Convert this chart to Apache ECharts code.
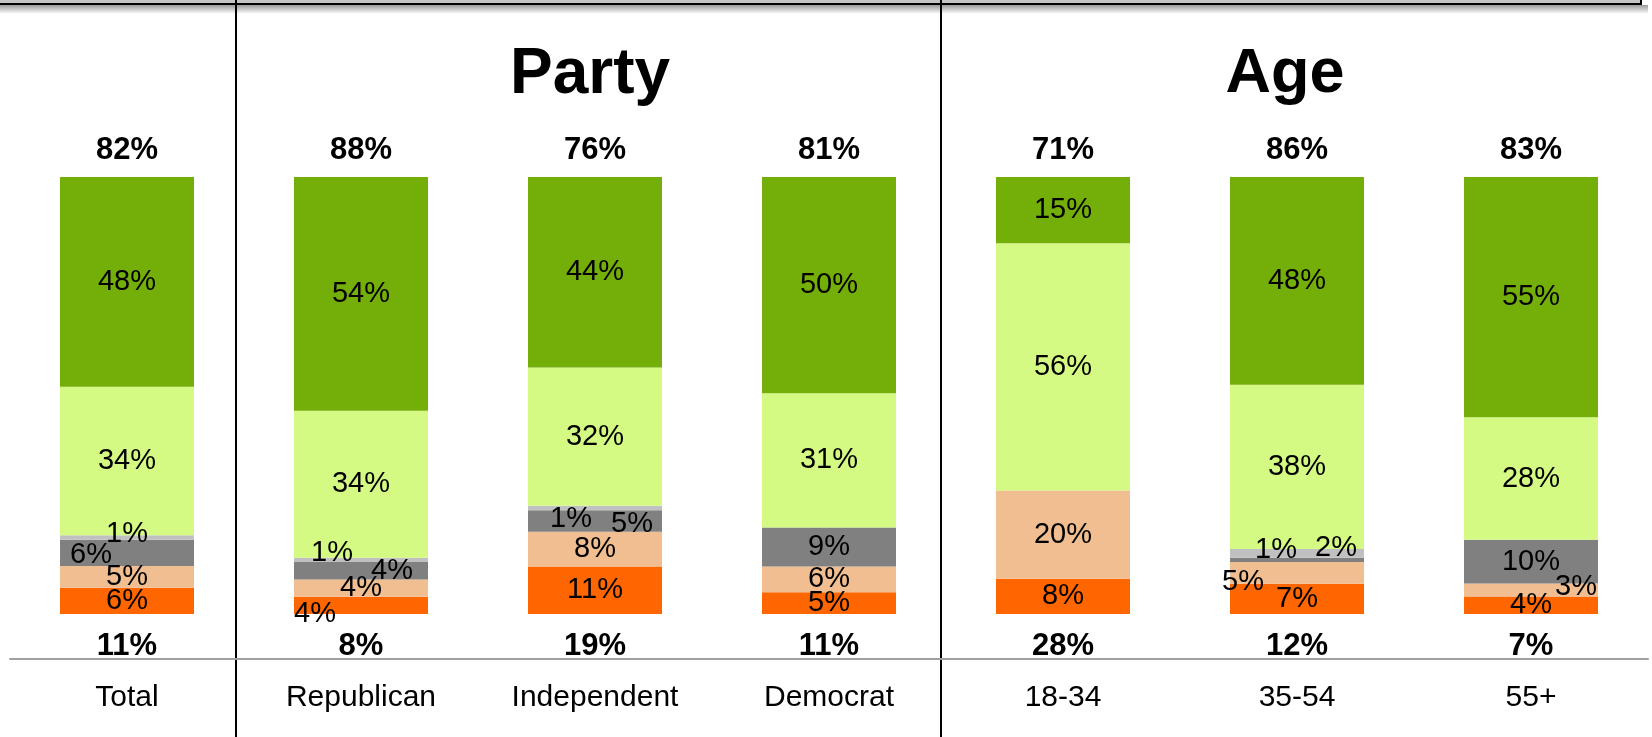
<!DOCTYPE html>
<html>
<head>
<meta charset="utf-8">
<script src="https://cdn.jsdelivr.net/npm/echarts@6/dist/echarts.min.js"></script>
<style>
  html, body { margin: 0; padding: 0; background: #fff; }
  #chart { width: 1652px; height: 737px; }
</style>
</head>
<body>
<div id="chart"></div>
<script>
// categories and values (percent)
const categories = ["Total", "Republican", "Independent", "Democrat", "18-34", "35-54", "55+"];
const topNet = [82, 88, 76, 81, 71, 86, 83];
const bottomNet = [11, 8, 19, 11, 28, 12, 7];

// stacked segments, bottom to top
const strongOppose = [6, 4, 11, 5, 8, 7, 4];
const someOppose = [5, 4, 8, 6, 20, 5, 3];
const darkGray = [6, 4, 5, 9, 0, 1, 10];
const lightGray = [1, 1, 1, 0, 0, 2, 0];
const someSupport = [34, 34, 32, 31, 56, 38, 28];
const strongSupport = [48, 54, 44, 50, 15, 48, 55];

const segments = [
  { name: "Strongly oppose", values: strongOppose, color: "#FF6600" },
  { name: "Somewhat oppose", values: someOppose, color: "#F0BE90" },
  { name: "Don't know", values: darkGray, color: "#808080" },
  { name: "Refused", values: lightGray, color: "#C0C0C0" },
  { name: "Somewhat support", values: someSupport, color: "#D4FA84" },
  { name: "Strongly support", values: strongSupport, color: "#74AE08" },
];

// label nudges for small segments: [seriesIndex, categoryIndex, dx, dy]
const labelNudges = [
  [2, 0, -36, 2], [3, 0, 0, -4],
  [3, 1, -29, -7], [2, 1, 31, 0], [0, 1, -46, 9],
  [3, 2, -24, 11], [2, 2, 37, 3],
  [3, 5, 39, -5], [2, 5, -21, -10], [1, 5, -54, 9],
  [1, 6, 45, -3],
];

const FONT = "'Liberation Sans', Arial, sans-serif";

// each bar is drawn as share of its own total so all bars are the same height
const sums = categories.map((c, i) => segments.reduce((s, seg) => s + seg.values[i], 0));

const series = segments.map((seg, si) => ({
  name: seg.name,
  type: "bar",
  stack: "all",
  barWidth: 134,
  itemStyle: { color: seg.color },
  label: {
    show: true,
    position: "inside",
    color: "#000",
    fontFamily: FONT,
    fontSize: 29,
    formatter: (p) => (p.data.raw > 0 ? p.data.raw + "%" : ""),
  },
  data: seg.values.map((v, ci) => {
    let item = { value: (v / sums[ci]) * 100, raw: v };
    labelNudges.forEach((n) => {
      if (n[0] === si && n[1] === ci) item.label = { offset: [n[2], n[3]] };
    });
    return item;
  }),
}));

const chart = echarts.init(document.getElementById("chart"));
chart.setOption({
  animation: false,
  grid: { left: 10, right: 4, top: 177, bottom: 123 },
  xAxis: [
    {
      type: "category",
      position: "bottom",
      data: categories,
      axisLine: { show: false },
      axisTick: { show: false },
      axisLabel: {
        margin: 32,
        verticalAlign: "middle",
        fontFamily: FONT,
        fontSize: 31,
        fontWeight: "bold",
        color: "#000",
        formatter: (v, i) => bottomNet[i] + "%",
      },
    },
    {
      type: "category",
      position: "bottom",
      offset: 45,
      data: categories,
      axisLine: { show: true, lineStyle: { color: "#a0a0a0", width: 2 } },
      axisTick: { show: false },
      axisLabel: {
        margin: 39,
        verticalAlign: "middle",
        fontFamily: FONT,
        fontSize: 30,
        color: "#000",
      },
    },
    {
      type: "category",
      position: "top",
      data: categories,
      axisLine: { show: false },
      axisTick: { show: false },
      axisLabel: {
        margin: 27,
        verticalAlign: "middle",
        fontFamily: FONT,
        fontSize: 31,
        fontWeight: "bold",
        color: "#000",
        formatter: (v, i) => topNet[i] + "%",
      },
    },
  ],
  yAxis: { type: "value", min: 0, max: 100, show: false },
  graphic: [
    { type: "rect", shape: { x: 0, y: 0, width: 1641, height: 3 }, style: { fill: "#c4c4c4" } },
    {
      type: "rect",
      shape: { x: 0, y: 5, width: 1648, height: 9 },
      style: {
        fill: new echarts.graphic.LinearGradient(0, 0, 0, 1, [
          { offset: 0, color: "#9a9a9a" },
          { offset: 1, color: "#ffffff" },
        ]),
      },
    },
    { type: "line", shape: { x1: 0, y1: 4, x2: 1642, y2: 4 }, style: { stroke: "#000", lineWidth: 2 } },
    { type: "line", shape: { x1: 1641, y1: 0, x2: 1641, y2: 5 }, style: { stroke: "#000", lineWidth: 2 } },
    { type: "line", shape: { x1: 236, y1: 0, x2: 236, y2: 737 }, style: { stroke: "#000", lineWidth: 2 } },
    { type: "line", shape: { x1: 941, y1: 0, x2: 941, y2: 737 }, style: { stroke: "#000", lineWidth: 2 } },
    {
      type: "text",
      x: 590,
      y: 75,
      style: { text: "Party", fontFamily: FONT, fontSize: 64, fontWeight: "bold", fill: "#000", align: "center", verticalAlign: "middle" },
    },
    {
      type: "text",
      x: 1285,
      y: 75,
      style: { text: "Age", fontFamily: FONT, fontSize: 63, fontWeight: "bold", fill: "#000", align: "center", verticalAlign: "middle" },
    },
  ],
  series: series,
});
</script>
</body>
</html>
